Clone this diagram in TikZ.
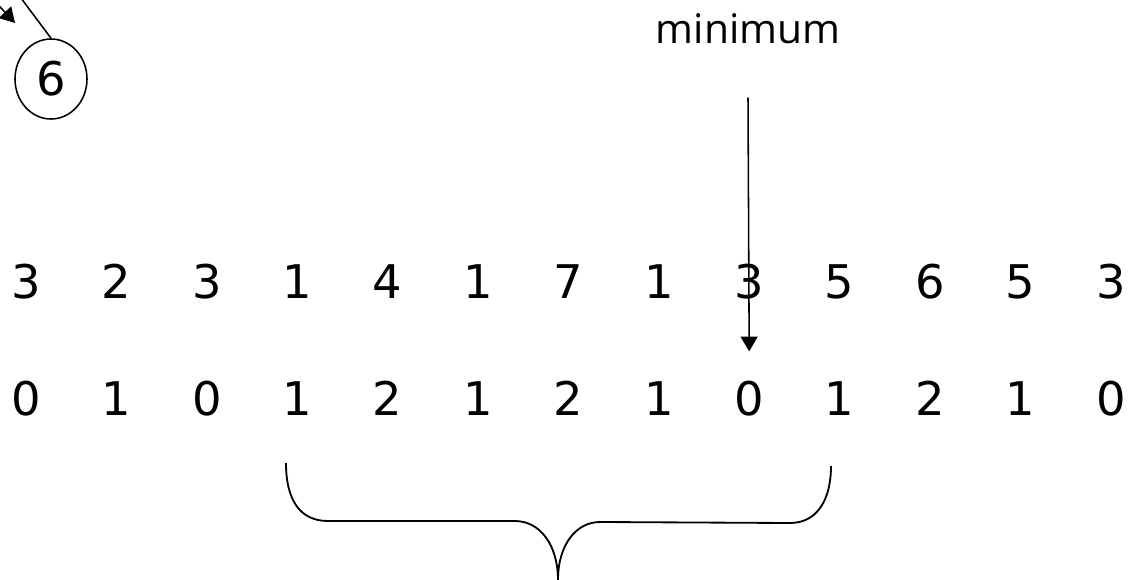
\documentclass[tikz,border=0pt]{standalone}
\usepackage{fontspec}
\setmainfont{DejaVu Sans}
\newfontfamily\handfont{Open Sans}
\usetikzlibrary{arrows.meta, shapes.geometric}

\begin{document}
\begin{tikzpicture}[
  x=0.025cm, y=-0.025cm,
  every node/.style={align=center, inner sep=0pt},
  numnode/.style={font=\fontsize{33}{40}\selectfont, anchor=base},
  circnode/.style={
    draw, ellipse, line width=1.1pt,
    minimum width=1.8cm, minimum height=2.0cm,
    font=\fontsize{33}{40}\selectfont
  },
  minlabel/.style={font=\handfont\fontsize{29}{34}\selectfont, anchor=base},
  arr/.style={-{Triangle[length=0.37cm, width=0.42cm]}, line width=1.1pt},
  bracepath/.style={line width=1.3pt, line join=round},
]

\useasboundingbox (0,0) rectangle (1134,580);
\clip (0,0) rectangle (1134,580);

%% ─── Cut-off node in the corner ──────────────────────────────────────────────

\node[circnode] (six) at (51,79) {6};

\coordinate (cutA) at (-6,-38);
\coordinate (cutB) at (-25,-20);
\coordinate (tipB) at (15,23);

\draw[line width=1.1pt] (six.north) -- (cutA);
\draw[arr] (cutB) -- (tipB);

%% ─── Label and pointer ───────────────────────────────────────────────────────

\node[minlabel] (minlab) at (748,43) {minimum};

%% ─── Value row and depth row ─────────────────────────────────────────────────

\foreach \v [count=\i] in {3,2,3,1,4,1,7,1,3,5,6,5,3}
  \node[numnode] (v\i) at ({26+(\i-1)*90.4}, 298) {\v};

\foreach \d [count=\i] in {0,1,0,1,2,1,2,1,0,1,2,1,0}
  \node[numnode] (d\i) at ({26+(\i-1)*90.4}, 415) {\d};

\coordinate (mend) at ([yshift=0.72cm]d9.north);
\draw[arr] ([yshift=-1.35cm]minlab.south) -- (mend);

%% ─── Brace under the range ───────────────────────────────────────────────────

\draw[bracepath]
  (286,463) .. controls (286,500) and (300,521) .. (328,521)
  -- (515,521) .. controls (540,521) and (558,545) .. (558,580)
  (558,580) .. controls (558,545) and (576,522) .. (600,522)
  -- (790,523) .. controls (817,523) and (831,500) .. (831,466);

\end{tikzpicture}
\end{document}
